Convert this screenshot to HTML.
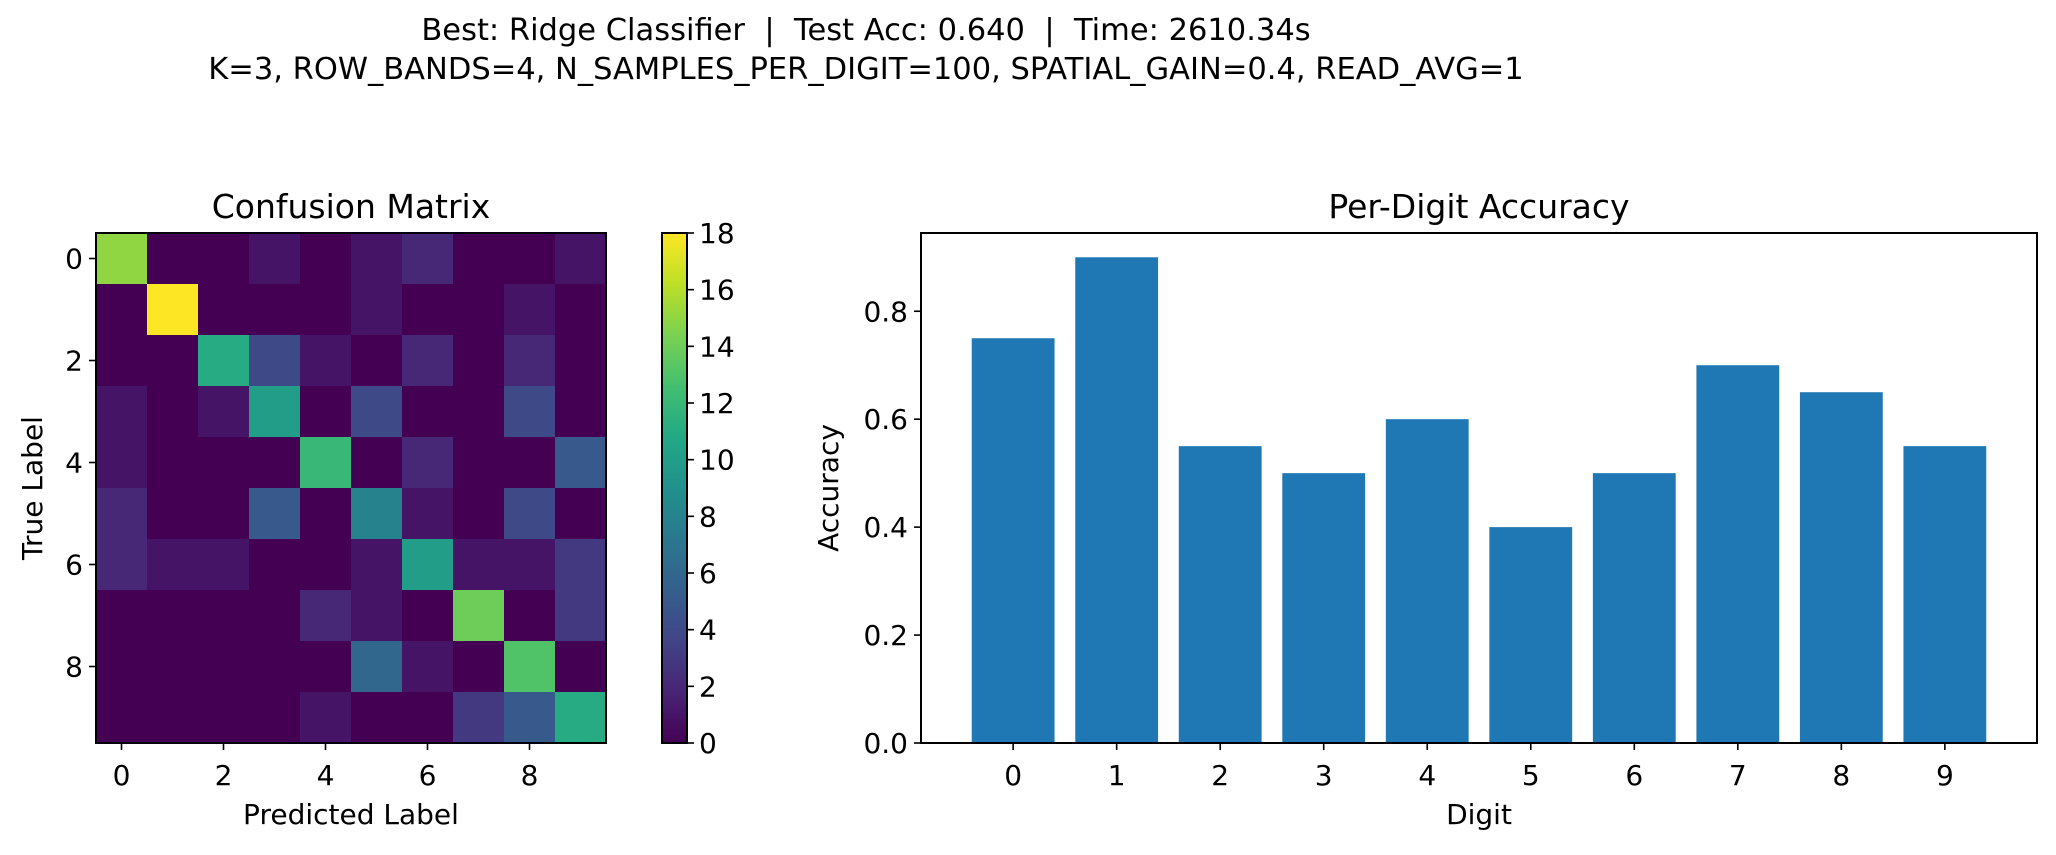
<!DOCTYPE html>
<html><head><meta charset="utf-8"><style>
body{margin:0;background:#fff;}
svg text{font-family:"DejaVu Sans","Liberation Sans",sans-serif;fill:#000;}
</style></head><body>
<svg id="fig" width="2056" height="850" xmlns="http://www.w3.org/2000/svg">
<rect width="2056" height="850" fill="#fff"/>
<text x="866" y="40" font-size="30.5" text-anchor="middle" xml:space="preserve">Best: Ridge Classifier  |  Test Acc: 0.640  |  Time: 2610.34s</text>
<text x="866" y="79" font-size="30.5" text-anchor="middle">K=3, ROW_BANDS=4, N_SAMPLES_PER_DIGIT=100, SPATIAL_GAIN=0.4, READ_AVG=1</text>
<g id="cm"></g>
<g id="bars"></g>
</svg>
<script>
const digits = [0,1,2,3,4,5,6,7,8,9];
const cmRow0 = [15,0,0,1,0,1,2,0,0,1];
const cmRow1 = [0,18,0,0,0,1,0,0,1,0];
const cmRow2 = [0,0,11,4,1,0,2,0,2,0];
const cmRow3 = [1,0,1,10,0,4,0,0,4,0];
const cmRow4 = [1,0,0,0,12,0,2,0,0,5];
const cmRow5 = [2,0,0,5,0,8,1,0,4,0];
const cmRow6 = [2,1,1,0,0,1,10,1,1,3];
const cmRow7 = [0,0,0,0,2,1,0,14,0,3];
const cmRow8 = [0,0,0,0,0,6,1,0,13,0];
const cmRow9 = [0,0,0,0,1,0,0,3,5,11];
const accuracy = [0.75,0.90,0.55,0.50,0.60,0.40,0.50,0.70,0.65,0.55];
const cmTicks = [0,2,4,6,8];
const cbarTicks = [0,2,4,6,8,10,12,14,16,18];
const accTicks = [0.0,0.2,0.4,0.6,0.8];
const cmRows=[cmRow0,cmRow1,cmRow2,cmRow3,cmRow4,cmRow5,cmRow6,cmRow7,cmRow8,cmRow9];

const NS="http://www.w3.org/2000/svg";
function mk(tag,attrs,parent,txt){const e=document.createElementNS(NS,tag);for(const k in attrs)e.setAttribute(k,attrs[k]);if(txt!==undefined)e.textContent=txt;parent.appendChild(e);return e;}
const V=[[68,1,84],[72,36,117],[65,68,135],[53,95,141],[42,120,142],[33,145,140],[34,168,132],[68,191,112],[122,209,81],[189,223,38],[253,231,37]];
function viridis(t){t=Math.max(0,Math.min(1,t));const p=t*10,i=Math.min(9,Math.floor(p)),f=p-i;const a=V[i],b=V[i+1];return `rgb(${a.map((v,k)=>Math.round(v+(b[k]-v)*f)).join(',')})`;}
const TF=28, TTF=33;

// confusion matrix
const cm=document.getElementById('cm');
const L=96,T=233,S=510,n=10,cs=S/n;
let vmax=0;cmRows.forEach(r=>r.forEach(v=>vmax=Math.max(vmax,v)));
const cx=i=>L+(i+0.5)*cs, cy=i=>T+(i+0.5)*cs;
cmRows.forEach((row,r)=>row.forEach((v,c)=>{
  const e=mk('rect',{x:cx(c)-cs/2,y:cy(r)-cs/2,width:cs+0.5,height:cs+0.5,fill:viridis(v/vmax)},cm);
  
  
}));
mk('rect',{x:L,y:T,width:S,height:S,fill:'none',stroke:'#000','stroke-width':2},cm);
cmTicks.forEach(t=>{
  mk('line',{x1:cx(t),x2:cx(t),y1:T+S,y2:T+S+7,stroke:'#000','stroke-width':1.6},cm);
  const a=mk('text',{x:cx(t),y:T+S+42,'font-size':TF,'text-anchor':'middle'},cm,String(t));
  
  
  mk('line',{x1:L-7,x2:L,y1:cy(t),y2:cy(t),stroke:'#000','stroke-width':1.6},cm);
  const b=mk('text',{x:L-13,y:cy(t)+10,'font-size':TF,'text-anchor':'end'},cm,String(t));
  
  
});
let e=mk('text',{x:L+S/2,y:218,'font-size':TTF,'text-anchor':'middle'},cm,'Confusion Matrix');

e=mk('text',{x:L+S/2,y:824,'font-size':TF,'text-anchor':'middle'},cm,'Predicted Label');

e=mk('text',{x:0,y:0,'font-size':TF,'text-anchor':'middle',transform:`translate(42,${T+S/2}) rotate(-90)`},cm,'True Label');

// colorbar
const CBX=662,CBW=25;
const defs=mk('defs',{},cm);const g=mk('linearGradient',{id:'vg',x1:0,y1:1,x2:0,y2:0},defs);
for(let i=0;i<=10;i++)mk('stop',{offset:i/10,'stop-color':viridis(i/10)},g);
e=mk('rect',{x:CBX,y:T,width:CBW,height:S,fill:'url(#vg)',stroke:'#000','stroke-width':2},cm);

cbarTicks.forEach(t=>{const y=T+S-t/vmax*S;
  mk('line',{x1:CBX+CBW,x2:CBX+CBW+7,y1:y,y2:y,stroke:'#000','stroke-width':1.6},cm);
  const a=mk('text',{x:CBX+CBW+12,y:y+10,'font-size':TF},cm,String(t));
  
  
});

// bar chart
const bc=document.getElementById('bars');
const BL=921,BR=2037,BT=233,BB=743;
const xmin=-0.4-0.49,xmax=9.4+0.49;
const ymax=Math.max(...accuracy)*1.05;
const X=v=>BL+(v-xmin)/(xmax-xmin)*(BR-BL);
const Y=v=>BB-v/ymax*(BB-BT);
digits.forEach((d,i)=>{
  const r=mk('rect',{x:X(d-0.4),y:Y(accuracy[i]),width:X(d+0.4)-X(d-0.4),height:Y(0)-Y(accuracy[i]),fill:'#1f77b4'},bc);
  
  
  mk('line',{x1:X(d),x2:X(d),y1:BB,y2:BB+7,stroke:'#000','stroke-width':1.6},bc);
  const a=mk('text',{x:X(d),y:BB+42,'font-size':TF,'text-anchor':'middle'},bc,String(d));
  
  
});
accTicks.forEach(t=>{
  mk('line',{x1:BL-7,x2:BL,y1:Y(t),y2:Y(t),stroke:'#000','stroke-width':1.6},bc);
  const a=mk('text',{x:BL-13,y:Y(t)+10,'font-size':TF,'text-anchor':'end'},bc,t.toFixed(1));
  
  
});
mk('rect',{x:BL,y:BT,width:BR-BL,height:BB-BT,fill:'none',stroke:'#000','stroke-width':2},bc);
e=mk('text',{x:(BL+BR)/2,y:218,'font-size':TTF,'text-anchor':'middle'},bc,'Per-Digit Accuracy');

e=mk('text',{x:(BL+BR)/2,y:824,'font-size':TF,'text-anchor':'middle'},bc,'Digit');

e=mk('text',{x:0,y:0,'font-size':TF,'text-anchor':'middle',transform:`translate(838,${(BT+BB)/2}) rotate(-90)`},bc,'Accuracy');

</script>
</body></html>
